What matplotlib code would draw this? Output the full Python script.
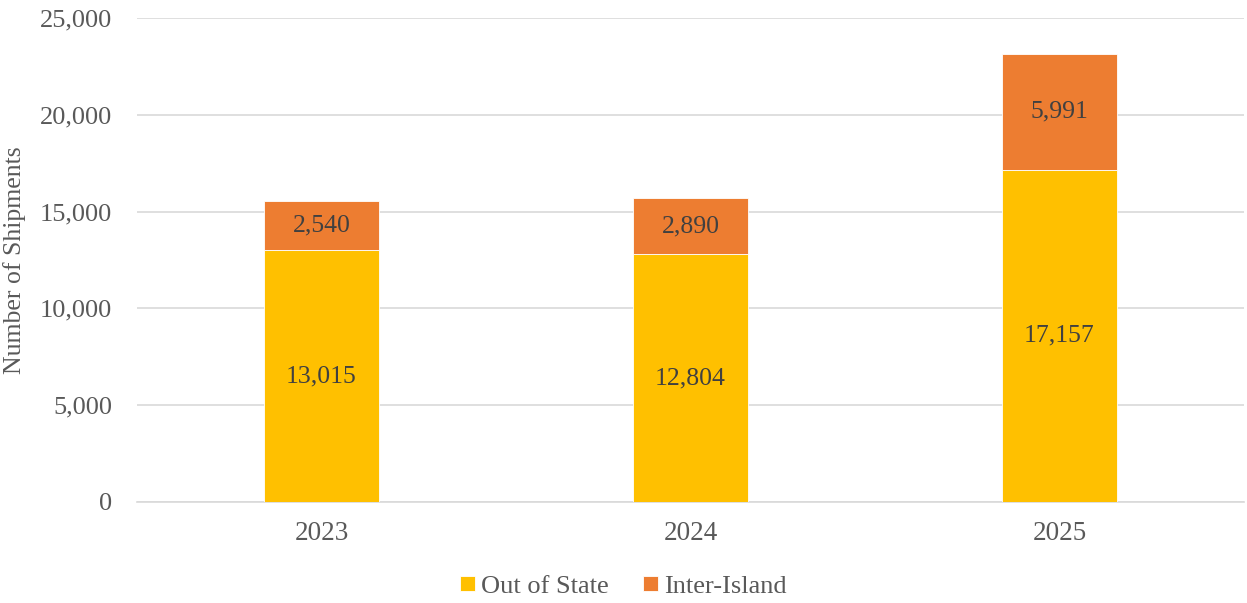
import matplotlib
matplotlib.use('Agg')
import matplotlib.pyplot as plt
import numpy as np

years = ['2023', '2024', '2025']
out_of_state = [13015, 12804, 17157]
inter_island = [2540, 2890, 5991]

plt.rcParams['font.family'] = ['Liberation Serif', 'DejaVu Serif']

fig = plt.figure(figsize=(12.47, 6.03), dpi=100)
ax = fig.add_axes([0.1099, 0.1675, 0.8877, 0.8027])

x = np.arange(len(years))
w = 0.314
b1 = ax.bar(x, out_of_state, w, color='#FFC000', label='Out of State', zorder=3,
            edgecolor='white', linewidth=0.6)
b2 = ax.bar(x, inter_island, w, bottom=out_of_state, color='#ED7D31', label='Inter-Island', zorder=3,
            edgecolor='white', linewidth=0.6)

for i in range(len(years)):
    ax.text(x[i], out_of_state[i] / 2, f'{out_of_state[i]:,}', ha='center', va='center',
            fontsize=18.5, color='#404040', zorder=4)
    ax.text(x[i], out_of_state[i] + inter_island[i] / 2, f'{inter_island[i]:,}', ha='center',
            va='center', fontsize=18.5, color='#404040', zorder=4)

ax.set_xlim(-0.5, 2.5)
ax.set_ylim(0, 25000)
ax.set_yticks(range(0, 25001, 5000))
ax.set_yticklabels([f'{v:,}' for v in range(0, 25001, 5000)])
ax.set_xticks(x)
ax.set_xticklabels(years)
ax.tick_params(axis='y', length=0, labelsize=19, colors='#595959', pad=18)
ax.tick_params(axis='x', length=0, labelsize=19.5, colors='#595959', pad=14)
ax.grid(axis='y', color='#D9D9D9', linewidth=1.2, zorder=0)
for s in ['top', 'right', 'left']:
    ax.spines[s].set_visible(False)
ax.spines['bottom'].set_color('#D9D9D9')
ax.spines['bottom'].set_linewidth(1.2)
ax.set_ylabel('Number of Shipments', fontsize=18.5, color='#595959', labelpad=10)

fig.legend(handles=[b1, b2], loc='center', bbox_to_anchor=(0.5, 0.027), ncol=2, frameon=False,
           fontsize=19, handlelength=0.55, handleheight=0.55, handletextpad=0.25, columnspacing=1.3,
           labelcolor='#595959')

fig.savefig('out.png', dpi=100)
